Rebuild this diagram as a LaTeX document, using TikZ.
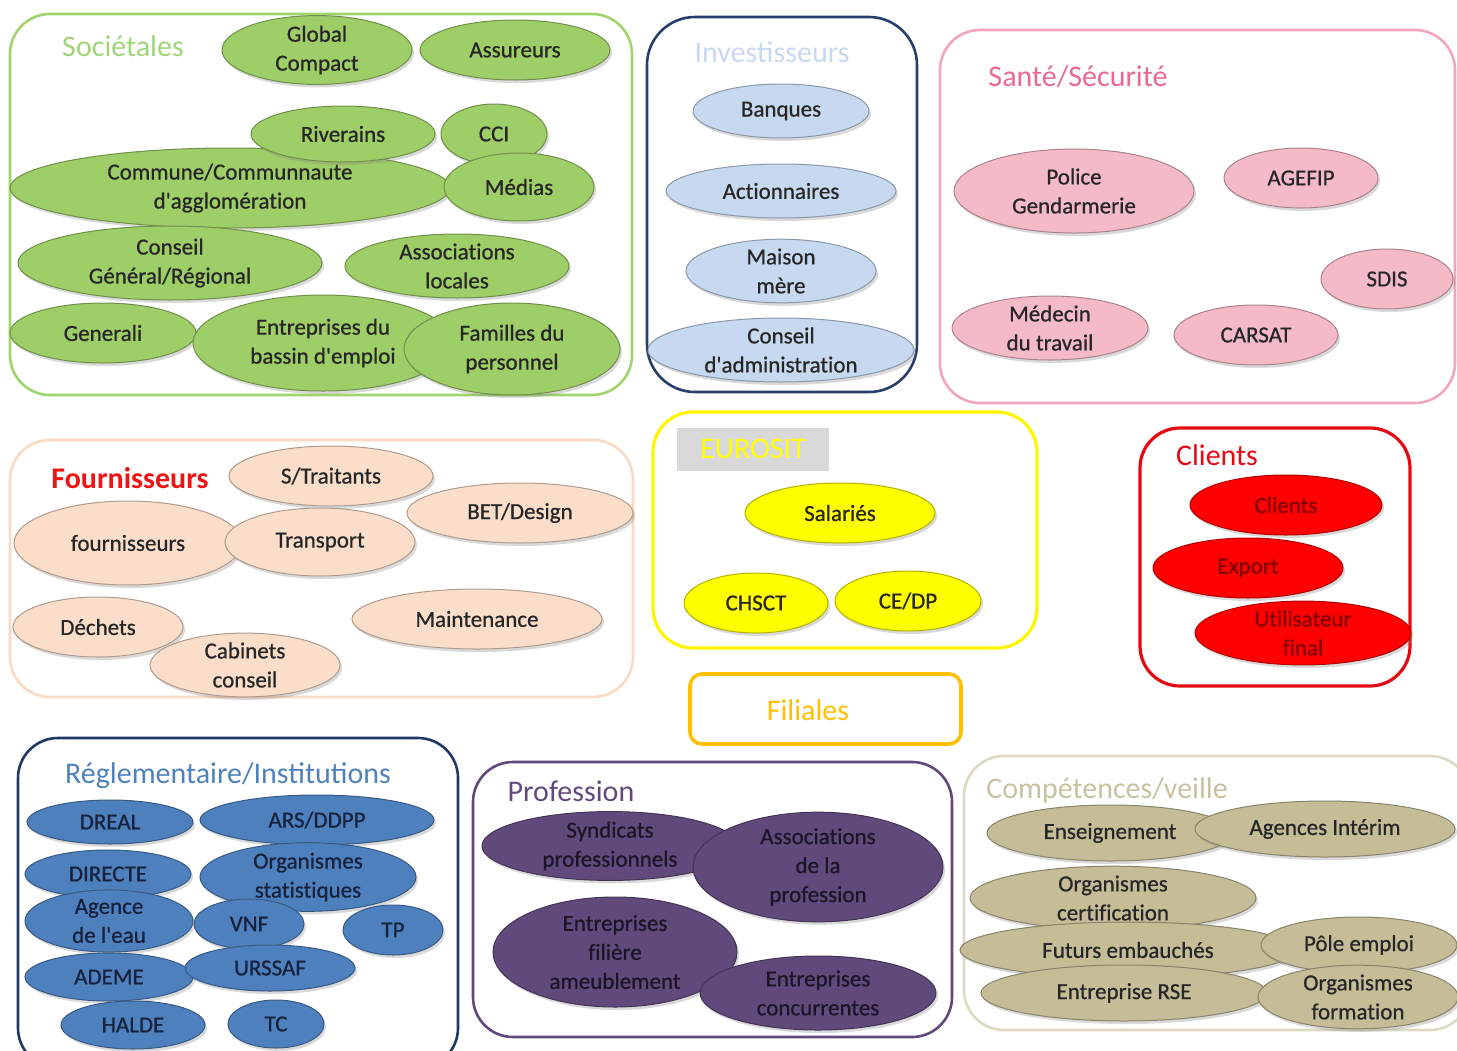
\documentclass[tikz,border=0pt]{standalone}
\usepackage{fontspec}
\setmainfont{Carlito}
\newfontfamily\blobfam{Carlito}[Ligatures=NoCommon, FakeBold=0.7]
\usetikzlibrary{shapes.geometric, shadows}

\definecolor{socline}{RGB}{160,212,110}
\definecolor{soctitle}{RGB}{160,212,120}
\definecolor{socfill}{RGB}{158,206,104}
\definecolor{invline}{RGB}{38,62,105}
\definecolor{invtitle}{RGB}{200,216,240}
\definecolor{invfill}{RGB}{198,217,241}
\definecolor{santeline}{RGB}{242,165,190}
\definecolor{santetitle}{RGB}{232,105,145}
\definecolor{santefill}{RGB}{244,186,200}
\definecolor{fournline}{RGB}{250,218,195}
\definecolor{fournfill}{RGB}{250,222,202}
\definecolor{fourntitle}{RGB}{238,20,20}
\definecolor{euroline}{RGB}{255,245,0}
\definecolor{eurogray}{RGB}{217,217,217}
\definecolor{eurofill}{RGB}{255,255,0}
\definecolor{cliline}{RGB}{228,10,20}
\definecolor{clifill}{RGB}{255,0,0}
\definecolor{clitext}{RGB}{128,0,0}
\definecolor{filline}{RGB}{255,192,0}
\definecolor{regline}{RGB}{31,56,100}
\definecolor{regtitle}{RGB}{79,129,189}
\definecolor{regfill}{RGB}{78,128,190}
\definecolor{regtext}{RGB}{22,34,60}
\definecolor{profline}{RGB}{96,74,123}
\definecolor{proffill}{RGB}{96,74,123}
\definecolor{proftext}{RGB}{30,20,40}
\definecolor{compline}{RGB}{221,217,195}
\definecolor{comptitle}{RGB}{200,194,160}
\definecolor{compfill}{RGB}{196,189,151}

\newcommand{\blobfont}{\blobfam\fontsize{11.5}{14.5}\selectfont}
\newcommand{\ttlfont}{\fontsize{15}{18}\selectfont}

\tikzset{
  blob/.style={ellipse, inner sep=0pt, align=center, font=\blobfont, text=black!85,
    fill=#1, draw=#1!70!black, line width=0.5pt,
    drop shadow={opacity=0.3, shadow xshift=1pt, shadow yshift=-1.5pt}},
  wh/.style 2 args={minimum width=#1*0.5pt, minimum height=#2*0.5pt},
  grp/.style={draw=#1, line width=1.3pt, rounded corners=20pt},
  ttl/.style={font=\ttlfont, text=#1, inner sep=0pt},
}

\begin{document}
\begin{tikzpicture}[x=0.5pt, y=-0.5pt]
	\useasboundingbox (0,0) rectangle (1457,1050);

	% Societales
	\draw[grp=socline] (10,14) rectangle (632,395);
	\node[ttl=soctitle] (soc) at (123,46) {Sociétales};
	\node[blob=socfill, wh={190}{64}] (global) at (317,50) {Global\\Compact};
	\node[blob=socfill, wh={190}{60}] (assur) at (515,50) {Assureurs};
	\node[blob=socfill, wh={106}{60}] (cci) at (494,134) {CCI};
	\node[blob=socfill, wh={440}{80}] (commune) at (230,188) {Commune/Communnaute\\d'agglomération};
	\node[blob=socfill, wh={184}{56}] (riverains) at (343,134) {Riverains};
	\node[blob=socfill, wh={150}{68}] (medias) at (519,187) {Médias};
	\node[blob=socfill, wh={304}{74}] (conseilgr) at (170,263) {Conseil\\Général/Régional};
	\node[blob=socfill, wh={224}{64}] (assoloc) at (457,266) {Associations\\locales};
	\node[blob=socfill, wh={186}{60}] (generali) at (103,333) {Generali};
	\node[blob=socfill, wh={260}{96}] (bassin) at (323,343) {Entreprises du\\bassin d'emploi};
	\node[blob=socfill, wh={216}{92}] (familles) at (512,349) {Familles du\\personnel};

	% Investisseurs
	\draw[grp=invline, rounded corners=24pt] (647,17) rectangle (917,392);
	\node[ttl=invtitle] (inv) at (772,52) {Investisseurs};
	\node[blob=invfill, wh={176}{54}] (banques) at (781,111) {Banques};
	\node[blob=invfill, wh={230}{54}] (action) at (781,191) {Actionnaires};
	\node[blob=invfill, wh={190}{60}] (maison) at (781,271) {Maison\\mère};
	\node[blob=invfill, wh={266}{64}] (conseiladm) at (781,350) {Conseil\\d'administration};

	% Sante/Securite
	\draw[grp=santeline] (940,30) rectangle (1455,403);
	\node[ttl=santetitle] (sante) at (1078,77) {Santé/Sécurité};
	\node[blob=santefill, wh={240}{84}] (police) at (1074,191) {Police\\Gendarmerie};
	\node[blob=santefill, wh={154}{60}] (agefip) at (1301,178) {AGEFIP};
	\node[blob=santefill, wh={132}{60}] (sdis) at (1387,279) {SDIS};
	\node[blob=santefill, wh={196}{64}] (medecin) at (1050,328) {Médecin\\du travail};
	\node[blob=santefill, wh={164}{60}] (carsat) at (1256,335) {CARSAT};

	% Fournisseurs
	\draw[grp=fournline] (10,440) rectangle (633,697);
	\node[ttl=fourntitle, font=\ttlfont\bfseries] (fourn) at (130,478) {Fournisseurs};
	\node[blob=fournfill, wh={204}{60}] (straitants) at (331,476) {S/Traitants};
	\node[blob=fournfill, wh={226}{60}] (bet) at (520,513) {BET/Design};
	\node[blob=fournfill, wh={228}{84}] (fournisseurs) at (128,543) {fournisseurs};
	\node[blob=fournfill, wh={190}{68}] (transport) at (320,542) {Transport};
	\node[blob=fournfill, wh={170}{60}] (dechets) at (98,627) {Déchets};
	\node[blob=fournfill, wh={190}{60}] (cabinets) at (245,665) {Cabinets\\conseil};
	\node[blob=fournfill, wh={250}{60}] (maint) at (477,619) {Maintenance};

	% Eurosit
	\draw[grp=euroline, line width=1.6pt] (653,412) rectangle (1037,648);
	\node[fill=eurogray, wh={152}{43}, font=\ttlfont, text=eurofill] (eurosit) at (753,449) {EUROSIT};
	\node[blob=eurofill, wh={190}{60}] (salaries) at (840,513) {Salariés};
	\node[blob=eurofill, wh={144}{60}] (chsct) at (756,603) {CHSCT};
	\node[blob=eurofill, wh={146}{60}] (cedp) at (908,601) {CE/DP};

	% Clients
	\draw[grp=cliline, line width=1.6pt] (1140,428) rectangle (1410,686);
	\node[ttl=cliline] (clients) at (1217,455) {Clients};
	\node[blob=clifill, wh={192}{60}, text=clitext] (cli) at (1286,505) {Clients};
	\node[blob=clifill, wh={190}{60}, text=clitext] (export) at (1248,568) {Export};
	\node[blob=clifill, wh={216}{60}, text=clitext] (utilisateur) at (1303,633) {Utilisateur\\final};

	% Filiales
	\draw[draw=filline, line width=1.8pt, rounded corners=6pt] (690,674) rectangle (961,744);
	\node[ttl=filline] (filiales) at (808,710) {Filiales};

	% Reglementaire/Institutions
	\draw[grp=regline] (18,738) rectangle (458,1068);
	\node[ttl=regtitle] (regl) at (228,776) {Réglementaire/Institutions};
	\node[blob=regfill, wh={166}{44}, text=regtext] (dreal) at (110,822) {DREAL};
	\node[blob=regfill, wh={234}{50}, text=regtext] (ars) at (317,820) {ARS/DDPP};
	\node[blob=regfill, wh={166}{48}, text=regtext] (directe) at (108,874) {DIRECTE};
	\node[blob=regfill, wh={216}{54}, text=regtext] (orgstat) at (308,877) {Organismes\\statistiques};
	\node[blob=regfill, wh={168}{50}, text=regtext] (agence) at (109,921) {Agence\\de l'eau};
	\node[blob=regfill, wh={110}{50}, text=regtext] (vnf) at (249,924) {VNF};
	\node[blob=regfill, wh={100}{50}, text=regtext] (tp) at (393,930) {TP};
	\node[blob=regfill, wh={168}{48}, text=regtext] (ademe) at (109,977) {ADEME};
	\node[blob=regfill, wh={170}{46}, text=regtext] (urssaf) at (270,968) {URSSAF};
	\node[blob=regfill, wh={144}{48}, text=regtext] (halde) at (133,1025) {HALDE};
	\node[blob=regfill, wh={96}{48}, text=regtext] (tc) at (276,1024) {TC};

	% Profession
	\draw[grp=profline] (473,762) rectangle (952,1037);
	\node[ttl=profline] (prof) at (571,791) {Profession};
	\node[blob=proffill, wh={256}{66}, text=proftext] (syndicats) at (610,846) {Syndicats\\professionnels};
	\node[blob=proffill, wh={250}{96}, text=proftext] (assoprof) at (818,867) {Associations\\de la\\profession};
	\node[blob=proffill, wh={244}{110}, text=proftext] (filiere) at (615,952) {Entreprises\\filière\\ameublement};
	\node[blob=proffill, wh={236}{74}, text=proftext] (concur) at (818,993) {Entreprises\\concurrentes};

	% Competences/veille
	\draw[grp=compline] (964,756) rectangle (1470,1030);
	\node[ttl=comptitle] (comp) at (1107,790) {Compétences/veille};
	\node[blob=compfill, wh={246}{56}] (enseign) at (1110,833) {Enseignement};
	\node[blob=compfill, wh={260}{56}] (interim) at (1325,829) {Agences Intérim};
	\node[blob=compfill, wh={286}{56}] (orgcert) at (1113,898) {Organismes\\certification};
	\node[blob=compfill, wh={336}{56}] (futurs) at (1128,950) {Futurs embauchés};
	\node[blob=compfill, wh={196}{56}] (pole) at (1359,945) {Pôle emploi};
	\node[blob=compfill, wh={286}{56}] (rse) at (1124,993) {Entreprise RSE};
	\node[blob=compfill, wh={200}{60}] (orgform) at (1358,997) {Organismes\\formation};
\end{tikzpicture}
\end{document}
